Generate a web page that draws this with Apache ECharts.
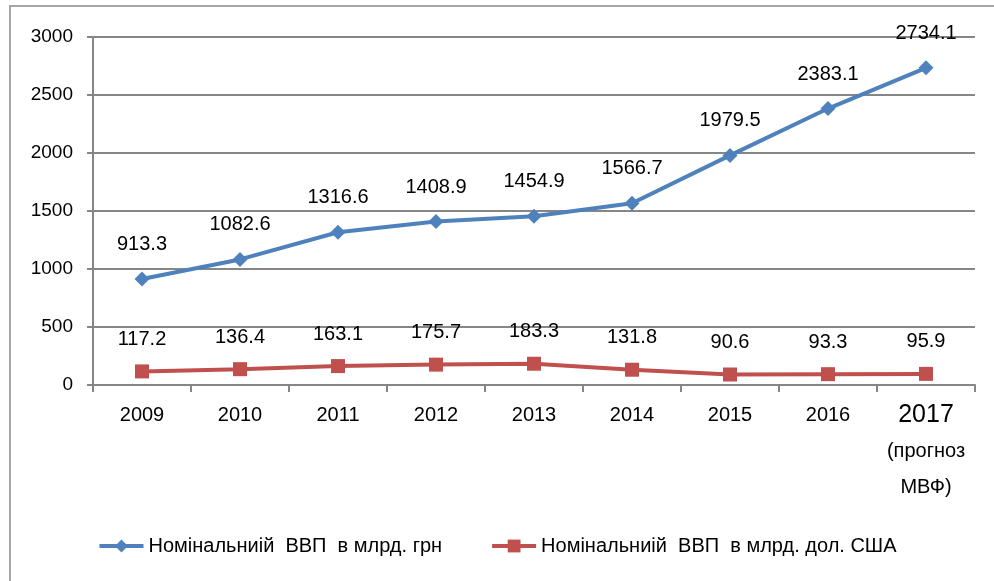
<!DOCTYPE html>
<html>
<head>
<meta charset="utf-8">
<script src="https://cdn.jsdelivr.net/npm/echarts@6/dist/echarts.min.js"></script>
<style>
html,body{margin:0;padding:0;background:#fff;}
#c{width:994px;height:581px;}
</style>
</head>
<body>
<div id="c"></div>
<script>
const categories = ['2009','2010','2011','2012','2013','2014','2015','2016','2017'];
const uahValues = [913.3, 1082.6, 1316.6, 1408.9, 1454.9, 1566.7, 1979.5, 2383.1, 2734.1];
const usdValues = [117.2, 136.4, 163.1, 175.7, 183.3, 131.8, 90.6, 93.3, 95.9];
const seriesNames = ['Номінальниій  ВВП  в млрд. грн', 'Номінальниій  ВВП  в млрд. дол. США'];
const forecastNote = ['(прогноз', 'МВФ)'];

const FONT = 'Liberation Sans';
const chart = echarts.init(document.getElementById('c'), null, {renderer: 'canvas'});
chart.setOption({
  animation: false,
  backgroundColor: '#fff',
  textStyle: {fontFamily: FONT},
  graphic: [{
    type: 'rect', z: -1,
    shape: {x: 10, y: 6, width: 1100, height: 700},
    style: {fill: 'none', stroke: '#a6a6a6', lineWidth: 2}
  }],
  grid: {left: 93, right: 19, top: 37, bottom: 196, containLabel: false},
  legend: {
    bottom: 20, left: 'center',
    itemWidth: 44, itemHeight: 16, itemGap: 48,
    lineStyle: {width: 4},
    textStyle: {fontFamily: FONT, fontSize: 20, color: '#000'},
    data: [seriesNames[0], seriesNames[1]]
  },
  xAxis: {
    type: 'category',
    data: categories,
    boundaryGap: true,
    axisLine: {lineStyle: {color: '#868686', width: 2}},
    axisTick: {show: true, length: 7, lineStyle: {color: '#868686', width: 2}},
    axisLabel: {
      margin: 12,
      interval: 0,
      color: '#000',
      formatter: function (v, i) {
        if (i === categories.length - 1) {
          return '{big|' + v + '}\n{s|' + forecastNote[0] + '}\n{s|' + forecastNote[1] + '}';
        }
        return '{n|' + v + '}';
      },
      rich: {
        n: {fontSize: 20, lineHeight: 36, fontFamily: FONT, color: '#000'},
        big: {fontSize: 25, lineHeight: 36, fontFamily: FONT, color: '#000'},
        s: {fontSize: 20, lineHeight: 36, fontFamily: FONT, color: '#000'}
      }
    }
  },
  yAxis: {
    type: 'value',
    min: 0, max: 3000, interval: 500,
    axisLine: {show: true, lineStyle: {color: '#868686', width: 2}},
    axisTick: {show: true, length: 6, lineStyle: {color: '#868686', width: 2}},
    splitLine: {lineStyle: {color: '#868686', width: 2}},
    axisLabel: {fontSize: 19, color: '#000', margin: 20, formatter: function (v) { return String(v); }}
  },
  series: [
    {
      name: seriesNames[0], type: 'line', data: uahValues,
      symbol: 'diamond', symbolSize: 15,
      lineStyle: {color: '#4F81BD', width: 4},
      itemStyle: {color: '#4F81BD'},
      label: {show: true, position: 'top', distance: 17, fontSize: 20, color: '#000', fontFamily: FONT}
    },
    {
      name: seriesNames[1], type: 'line', data: usdValues,
      symbol: 'rect', symbolSize: 14,
      lineStyle: {color: '#C0504D', width: 4},
      itemStyle: {color: '#C0504D'},
      label: {show: true, position: 'top', distance: 15, fontSize: 20, color: '#000', fontFamily: FONT}
    }
  ]
});
</script>
</body>
</html>
